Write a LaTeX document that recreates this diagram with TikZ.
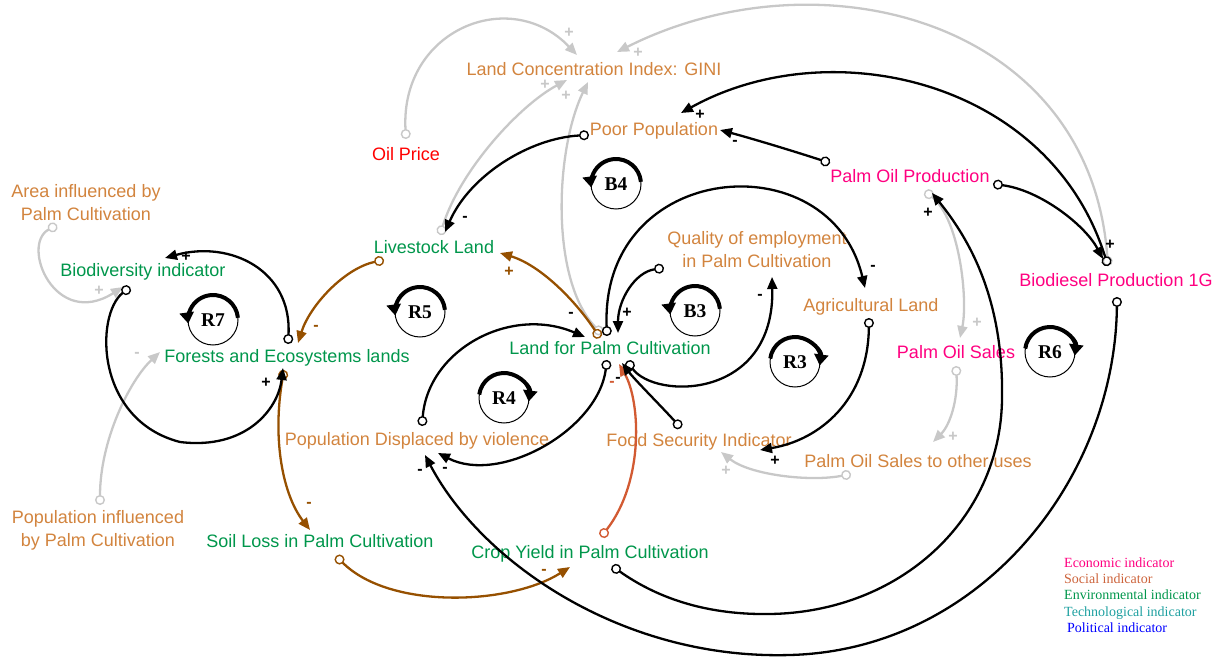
\documentclass[tikz,border=0pt]{standalone}
\usepackage{fontspec}
\setmainfont{Liberation Sans}
\newfontfamily\lserif{Liberation Serif}
\usetikzlibrary{arrows.meta}
\definecolor{lab}{RGB}{210,132,62}
\definecolor{env}{RGB}{0,150,75}
\definecolor{eco}{RGB}{255,0,128}
\definecolor{soc}{RGB}{205,100,60}
\definecolor{tec}{RGB}{30,160,160}
\definecolor{pol}{RGB}{0,0,255}
\definecolor{lgr}{RGB}{200,200,200}
\definecolor{brn}{RGB}{150,80,0}
\definecolor{rdo}{RGB}{210,90,50}
\tikzset{
  lbl/.style={font=\fontsize{18}{23}\selectfont, inner sep=0pt, anchor=base},
  lbltwo/.style={font=\fontsize{18}{23}\selectfont, inner sep=0pt, anchor=center, align=center},
  leg/.style={font=\lserif\fontsize{14}{16}\selectfont, inner sep=0pt, anchor=base west},
  lnk/.style={line width=2.3pt, {Circle[open,length=10pt,width=10pt,line width=1.4pt]}-{Triangle[length=12pt,width=10pt]}},
  blk/.style={lnk, draw=black},
  gry/.style={lnk, draw=lgr},
  brw/.style={lnk, draw=brn},
  rdl/.style={lnk, draw=rdo},
  sgn/.style={font=\bfseries\fontsize{16}{16}\selectfont, inner sep=0pt},
  ccwl/.pic={
    \draw[line width=1pt] (0,0) circle (25);
    \draw[line width=4pt,-{Triangle[length=11pt,width=14pt]}] (-5:25) arc (-5:-188:25);
    \node[font=\lserif\bfseries\fontsize{19.5}{20}\selectfont, inner sep=0pt] (-t) {#1};
  },
  cwl/.pic={
    \draw[line width=1pt] (0,0) circle (25);
    \draw[line width=4pt,-{Triangle[length=11pt,width=14pt]}] (-172:25) arc (-172:8:25);
    \node[font=\lserif\bfseries\fontsize{19.5}{20}\selectfont, inner sep=0pt] (-t) {#1};
  }
}
\begin{document}
\begin{tikzpicture}[x=1pt,y=-1pt]
\useasboundingbox (0,0) rectangle (1223,660);

% ---------- variables ----------
\node[lbl,text=lab] (gini) at (594,75.5) {Land Concentration Index: GINI};
\node[lbl,text=red] (oil) at (406,160.5) {Oil Price};
\node[lbl,text=lab] (poor) at (654,135.5) {Poor Population};
\node[lbltwo,text=lab] (area) at (86,202.5) {Area influenced by\\Palm Cultivation};
\node[lbl,text=env] (bio) at (143,276.5) {Biodiversity indicator};
\node[lbl,text=env] (forest) at (287,362.5) {Forests and Ecosystems lands};
\node[lbl,text=env] (live) at (434,253.5) {Livestock Land};
\node[lbl,text=env] (lfp) at (610,354.5) {Land for Palm Cultivation};
\node[lbltwo,text=lab] (qual) at (757,249.5) {Quality of employment\\in Palm Cultivation};
\node[lbl,text=lab] (agr) at (871,311.5) {Agricultural Land};
\node[lbl,text=eco] (pop) at (910,182.5) {Palm Oil Production};
\node[lbl,text=eco] (bd) at (1116,286.5) {Biodiesel Production 1G};
\node[lbl,text=eco] (pos) at (956,358.5) {Palm Oil Sales};
\node[lbl,text=lab] (posu) at (918,467.5) {Palm Oil Sales to other uses};
\node[lbl,text=lab] (food) at (699,446.5) {Food Security Indicator};
\node[lbl,text=lab] (disp) at (417,445.5) {Population Displaced by violence};
\node[lbltwo,text=lab] (pinf) at (98,530.5) {Population influenced\\by Palm Cultivation};
\node[lbl,text=env] (soil) at (320,547.5) {Soil Loss in Palm Cultivation};
\node[lbl,text=env] (crop) at (590,558.5) {Crop Yield in Palm Cultivation};

% ---------- legend ----------
\node[leg,text=eco] (lg1) at (1064,567.5) {Economic indicator};
\node[leg,text=soc] (lg2) at (1064,583.5) {Social indicator};
\node[leg,text=env] (lg3) at (1064,599.5) {Environmental indicator};
\node[leg,text=tec] (lg4) at (1064,616.5) {Technological indicator};
\node[leg,text=pol] (lg5) at (1067,632.5) {Political indicator};

% ---------- ports ----------
\coordinate (oil-o) at (406,139);   \coordinate (gini-i1) at (577,55);
\coordinate (bd-o) at (1108,266);   \coordinate (gini-i2) at (617,52);
\coordinate (live-o) at (440,235);  \coordinate (gini-i3) at (567,80);
\coordinate (lfp-o1) at (602,334);  \coordinate (gini-i4) at (588,82);
\coordinate (poor-o) at (589,135);  \coordinate (live-i) at (445,232);
\coordinate (for-o1) at (288,344);  \coordinate (bio-i) at (165,258);
\coordinate (bio-o) at (130,287);   \coordinate (for-i1) at (283,368);
\coordinate (area-o) at (57,225);   \coordinate (bio-i2) at (123,287);
\coordinate (pinf-o) at (100,505);  \coordinate (for-i2) at (160,352);
\coordinate (live-o2) at (384,260); \coordinate (for-i3) at (298,343);
\coordinate (lfp-o2) at (600,338);  \coordinate (live-i2) at (500,253);
\coordinate (for-o2) at (284,370);  \coordinate (soil-i) at (310,530);
\coordinate (soil-o) at (336,556);  \coordinate (crop-i) at (570,567);
\coordinate (crop-o1) at (601,537); \coordinate (lfp-i1) at (619,364);
\coordinate (lfp-o3) at (607,360);  \coordinate (disp-i1) at (438,453);
\coordinate (disp-o) at (422,426);  \coordinate (lfp-i2) at (585,337);
\coordinate (qual-o) at (664,268);  \coordinate (lfp-i3) at (618,333);
\coordinate (lfp-o4) at (627,361);  \coordinate (qual-i) at (772,277);
\coordinate (lfp-o5) at (607,336);  \coordinate (agr-i) at (865,288);
\coordinate (agr-o) at (869,318);   \coordinate (food-i1) at (760,450);
\coordinate (food-o) at (681,428);  \coordinate (lfp-i4) at (622,363);
\coordinate (posu-o) at (851,474);  \coordinate (food-i2) at (721,452);
\coordinate (pos-o) at (956,366);   \coordinate (posu-i) at (933,442);
\coordinate (pop-o1) at (925,191);  \coordinate (pos-i) at (960,338);
\coordinate (crop-o2) at (612,566); \coordinate (pop-i) at (932,193);
\coordinate (bd-o2) at (1117,297);  \coordinate (disp-i2) at (425,455);
\coordinate (pop-o2) at (830,163);  \coordinate (poor-i1) at (720,130);
\coordinate (poor-i2) at (681,113);
\coordinate (pop-o3) at (993,184);  \coordinate (bd-i) at (1103,259);

% ---------- grey links ----------
\draw[gry] (oil-o) .. controls (400,30) and (510,-15) .. (gini-i1);
\draw[gry] (bd-o) .. controls (1090,20) and (820,-50) .. (gini-i2);
\draw[gry] (live-o) .. controls (460,170) and (520,105) .. (gini-i3);
\draw[gry] (lfp-o1) .. controls (550,280) and (555,150) .. (gini-i4);
\draw[gry] (area-o) .. controls (20,245) and (55,330) .. (bio-i2);
\draw[gry] (pinf-o) .. controls (100,440) and (130,380) .. (for-i2);
\draw[gry] (pop-o1) .. controls (960,220) and (968,300) .. (pos-i);
\draw[gry] (pos-o) .. controls (958,400) and (950,425) .. (posu-i);
\draw[gry] (posu-o) .. controls (810,482) and (750,475) .. (food-i2);

% ---------- brown / red links ----------
\draw[brw] (live-o2) .. controls (345,268) and (310,305) .. (for-i3);
\draw[brw] (lfp-o2) .. controls (575,300) and (540,265) .. (live-i2);
\draw[brw] (for-o2) .. controls (272,440) and (283,495) .. (soil-i);
\draw[brw] (soil-o) .. controls (390,610) and (510,605) .. (crop-i);
\draw[rdl] (crop-o1) .. controls (645,480) and (640,400) .. (lfp-i1);

% ---------- black links ----------
\draw[blk] (for-o1) .. controls (292,270) and (230,240) .. (bio-i);
\draw[blk] (bio-o) .. controls (95,315) and (95,420) .. (180,442) .. controls (245,450) and (278,410) .. (for-i1);
\draw[blk] (poor-o) .. controls (530,138) and (470,175) .. (live-i);
\draw[blk] (lfp-o3) .. controls (598,430) and (500,485) .. (disp-i1);
\draw[blk] (disp-o) .. controls (428,350) and (510,305) .. (lfp-i2);
\draw[blk] (qual-o) .. controls (635,272) and (618,300) .. (lfp-i3);
\draw[blk] (lfp-o4) .. controls (655,400) and (775,400) .. (qual-i);
\draw[blk] (lfp-o5) .. controls (600,160) and (830,140) .. (agr-i);
\draw[blk] (agr-o) .. controls (868,400) and (820,440) .. (food-i1);
\draw[blk] (food-o) .. controls (660,405) and (635,380) .. (lfp-i4);
\draw[blk] (crop-o2) .. controls (660,600) and (710,615) .. (770,614)
   .. controls (900,612) and (1000,520) .. (1002,400)
   .. controls (1004,300) and (970,240) .. (pop-i);
\draw[blk] (bd-o2) .. controls (1115,480) and (980,650) .. (790,655)
   .. controls (620,660) and (480,560) .. (disp-i2);
\draw[blk] (pop-o2) .. controls (790,150) and (750,138) .. (poor-i1);
\draw[blk] (bd-o) .. controls (1050,80) and (830,30) .. (poor-i2);
\draw[blk] (pop-o3) .. controls (1040,190) and (1085,225) .. (bd-i);

% ---------- polarity signs ----------
\foreach \p/\s [count=\i] in {569/33,638/53,545/85,566/96,99/291,977/323,953/437,726/471}
  \node[sgn,text=lgr] (sgp\i) at (\p,\s) {+};
\node[sgn,text=lgr] (sgm0) at (137,355) {-};
\foreach \p/\s [count=\i] in {186/257,266/383,627/313,775/461,928/213,700/115,1110/245}
  \node[sgn] (sbp\i) at (\p,\s) {+};
\foreach \p/\s [count=\i] in {465/219,571/315,445/470,420/472,760/297,873/268,618/380,735/143}
  \node[sgn] (sbm\i) at (\p,\s) {-};
\node[sgn,text=brn] (sr1) at (316,328) {-};
\node[sgn,text=brn] (sr2) at (309,505) {-};
\node[sgn,text=brn] (sr3) at (544,572) {-};
\node[sgn,text=brn] (sr4) at (509,272) {+};
\node[sgn,text=rdo] (sr5) at (612,384) {-};

% ---------- loop markers ----------
\pic (r7) at (213,320) {ccwl=R7};
\pic (r5) at (420,312) {ccwl=R5};
\pic (b4) at (616,184) {ccwl=B4};
\pic (b3) at (695,311) {ccwl=B3};
\pic (r4) at (504,398) {cwl=R4};
\pic (r3) at (795,362) {cwl=R3};
\pic (r6) at (1050,352) {cwl=R6};
\end{tikzpicture}
\end{document}
